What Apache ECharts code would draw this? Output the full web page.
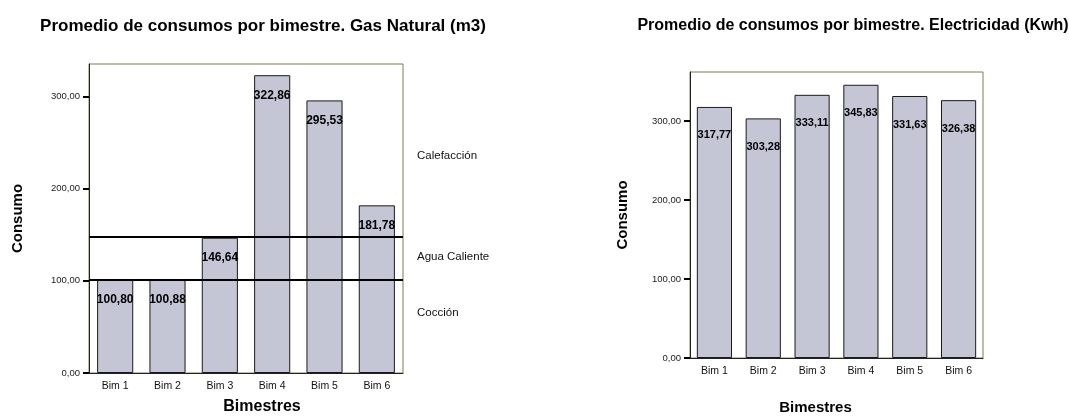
<!DOCTYPE html>
<html>
<head>
<meta charset="utf-8">
<script src="https://cdn.jsdelivr.net/npm/echarts@6/dist/echarts.min.js"></script>
<style>
  html, body { margin: 0; padding: 0; background: #fff; }
  #box { width: 1069px; height: 420px; }
</style>
</head>
<body>
<div id="box"></div>
<script>
// datos
const aBimestres = ['Bim 1', 'Bim 2', 'Bim 3', 'Bim 4', 'Bim 5', 'Bim 6'];
const aGas = [100.80, 100.88, 146.64, 322.86, 295.53, 181.78];
const aElec = [317.77, 303.28, 333.11, 345.83, 331.63, 326.38];
const aGasLineas = [101.3, 148.2]; // límites Cocción / Agua Caliente / Calefacción
const aGasZonas = ['Calefacción', 'Agua Caliente', 'Cocción'];
const aTicksY = [0, 100, 200, 300];
const aTitulos = [
    'Promedio de consumos por bimestre. Gas Natural (m3)',
    'Promedio de consumos por bimestre. Electricidad (Kwh)',
];

const sFont = '"Liberation Sans", Arial, sans-serif';
const fmtComa = v => Number(v).toFixed(2).replace('.', ',');

function ejeX(iGrid, iSize, iGap, aPad){
    return {
        type: 'category',
        gridIndex: iGrid,
        data: aBimestres,
        axisLine: { lineStyle: { color: '#222', width: 1 } },
        axisTick: { alignWithLabel: true, length: 5, lineStyle: { color: '#000', width: 2 } },
        axisLabel: { color: '#111', fontFamily: sFont, fontSize: 10.5, margin: 8 },
        name: 'Bimestres',
        nameLocation: 'middle',
        nameGap: iGap,
        nameTextStyle: { fontFamily: sFont, fontWeight: 'bold', fontSize: iSize, color: '#000', padding: aPad },
    };
}

function ejeY(iGrid, iMax, iGap){
    return {
        type: 'value',
        gridIndex: iGrid,
        min: 0,
        max: iMax,
        interval: 100,
        splitLine: { show: false },
        axisLine: { show: true, lineStyle: { color: '#222', width: 1 } },
        axisTick: { show: true, length: 6, customValues: aTicksY, lineStyle: { color: '#000', width: 2 } },
        axisLabel: { color: '#222', fontFamily: sFont, fontSize: 9.5, margin: 9, customValues: aTicksY, formatter: fmtComa },
        name: 'Consumo',
        nameLocation: 'middle',
        nameRotate: 90,
        nameGap: iGap,
        nameTextStyle: { fontFamily: sFont, fontWeight: 'bold', fontSize: 15, color: '#000' },
    };
}

function serie(iIdx, aData, sGap, iLabSize, iDist){
    return {
        type: 'bar',
        xAxisIndex: iIdx,
        yAxisIndex: iIdx,
        data: aData,
        barCategoryGap: sGap,
        itemStyle: { color: '#c4c6d6', borderColor: '#1a1a1a', borderWidth: 1 },
        label: {
            show: true,
            position: 'insideTop',
            distance: iDist,
            formatter: p => fmtComa(p.value),
            fontFamily: sFont,
            fontWeight: 'bold',
            fontSize: iLabSize,
            color: '#000',
        },
        silent: true,
    };
}

const oSerieGas = serie(0, aGas, '31%', 12, 14);
oSerieGas.markLine = {
    silent: true,
    symbol: 'none',
    label: { show: false },
    lineStyle: { color: '#000', width: 2, type: 'solid' },
    data: aGasLineas.map(v => ({ yAxis: v })),
};

const aZonaY = [157, 258, 314];

const option = {
    animation: false,
    backgroundColor: '#fff',
    title: [
        { text: aTitulos[0], left: 258, top: 13, textAlign: 'center',
          textStyle: { fontFamily: sFont, fontWeight: 'bold', fontSize: 17, color: '#000' } },
        { text: aTitulos[1], left: 848, top: 13, textAlign: 'center',
          textStyle: { fontFamily: sFont, fontWeight: 'bold', fontSize: 16, color: '#000' } },
    ],
    grid: [
        { left: 89, top: 64, width: 314, height: 312, show: true, borderColor: '#7c7c52', borderWidth: 1 },
        { left: 690, top: 72, width: 293, height: 291, show: true, borderColor: '#7c7c52', borderWidth: 1 },
    ],
    xAxis: [ejeX(0, 16, 26, [0, 0, 0, 32]), ejeX(1, 15, 42, [0, 42, 0, 0])],
    yAxis: [ejeY(0, 335, 64), ejeY(1, 362, 60)],
    series: [oSerieGas, serie(1, aElec, '28%', 11, 23)],
    graphic: aGasZonas.map((s, i) => ({
        type: 'text',
        left: 417,
        top: aZonaY[i] - 7,
        style: { text: s, fontFamily: sFont, fontSize: 11.5, fill: '#111' },
    })),
};

const myChart = echarts.init(document.getElementById('box'));
myChart.setOption(option);
</script>
</body>
</html>
